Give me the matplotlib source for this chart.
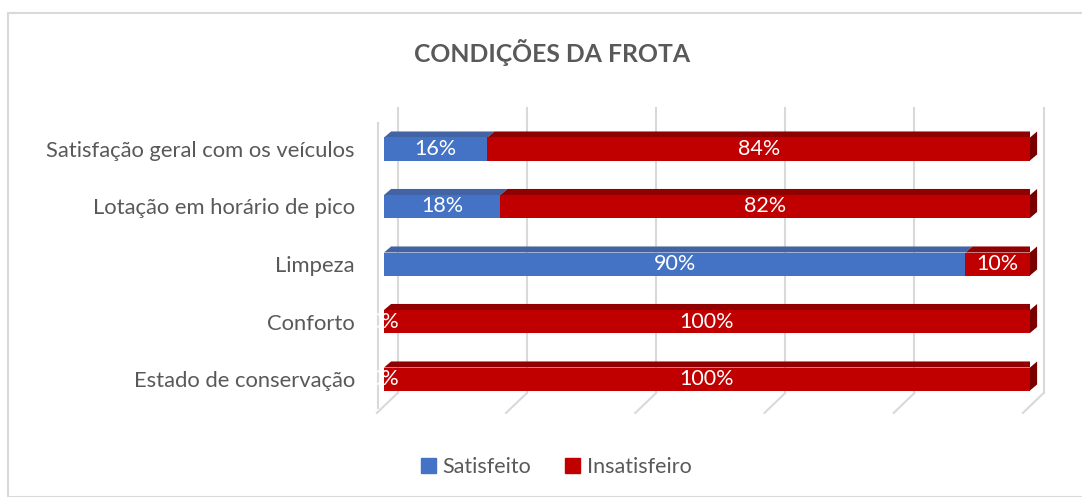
import matplotlib
matplotlib.use('Agg')
import matplotlib.pyplot as plt
from matplotlib.patches import Polygon, Rectangle, Patch

plt.rcParams['font.family'] = ['Lato', 'DejaVu Sans']

# data
categories = ['Estado de conservação', 'Conforto', 'Limpeza',
              'Lotação em horário de pico', 'Satisfação geral com os veículos']
satisfeito = [0, 0, 90, 18, 16]
insatisfeito = [100, 100, 10, 82, 84]
series_names = ['Satisfeito', 'Insatisfeiro']
title = 'CONDIÇÕES DA FROTA'

blue = '#4472C4'
blue_top = '#4264A4'
red = '#C00000'
red_top = '#900000'
red_side = '#7A0000'
grid_c = '#D9D9D9'
text_c = '#595959'

W, H = 1082, 497
fig = plt.figure(figsize=(W / 100, H / 100), dpi=100)

# outer chart border
fig.patches.append(Rectangle((8 / W, 0), 1.2, (H - 13) / H, transform=fig.transFigure,
                             fill=False, edgecolor=grid_c, linewidth=1.5))

ax = fig.add_axes([384 / W, (H - 407.75) / H, 646 / W, 287.5 / H])
ax.set_xlim(0, 100)
ax.set_ylim(-0.5, 4.5)

pos = list(range(len(categories)))
bh = 0.4
dx, dy = 1.1, 0.105  # depth of the fake 3d faces

# back wall grid + floor lines
for k in range(6):
    xb = 20 * k + 2.1
    ax.plot([xb, xb], [4.71, -0.245], color=grid_c, lw=1.5, zorder=0, clip_on=False)
    ax.plot([xb, xb - 3.2], [-0.245, -0.59], color=grid_c, lw=1.5, zorder=0, clip_on=False)
ax.plot([-0.95, -0.95], [4.45, -0.5], color=grid_c, lw=1.5, zorder=0, clip_on=False)

ax.barh(pos, satisfeito, height=bh, color=blue, zorder=3)
ax.barh(pos, insatisfeito, height=bh, left=satisfeito, color=red, zorder=3)

for y, s, i in zip(pos, satisfeito, insatisfeito):
    top = y + bh / 2
    if s > 0:
        ax.add_patch(Polygon([(0, top), (s, top), (s + dx, top + dy), (dx, top + dy)],
                             closed=True, color=blue_top, zorder=2, lw=0))
    ax.add_patch(Polygon([(s, top), (s + i, top), (s + i + dx, top + dy), (s + dx, top + dy)],
                         closed=True, color=red_top, zorder=2, lw=0))
    x1 = s + i
    ax.add_patch(Polygon([(x1, y - bh / 2), (x1, top), (x1 + dx, top + dy), (x1 + dx, y - bh / 2 + dy)],
                         closed=True, color=red_side, zorder=2, lw=0, clip_on=False))
    ax.text(s / 2, y, f'{s}%', color='white', fontsize=15.5, ha='center', va='center', zorder=5)
    ax.text(s + i / 2, y, f'{i}%', color='white', fontsize=15.5, ha='center', va='center', zorder=5)

ax.set_yticks(pos, categories)
ax.tick_params(axis='y', length=0, pad=21, labelsize=15.8, labelcolor=text_c)
ax.set_xticks([])
for sp in ax.spines.values():
    sp.set_visible(False)
ax.patch.set_alpha(0)

fig.text(552 / W, 1 - 52 / H, title, ha='center', va='center', fontsize=17.8,
         fontweight='bold', color=text_c)

handles = [Patch(color=blue), Patch(color=red)]
fig.legend(handles, series_names, loc='center', bbox_to_anchor=(556 / W, 1 - 467 / H),
           ncol=2, frameon=False, fontsize=15.5, labelcolor=text_c,
           handlelength=0.7, handleheight=0.7, handletextpad=0.3, columnspacing=1.6)

fig.savefig('out.png', dpi=100)
